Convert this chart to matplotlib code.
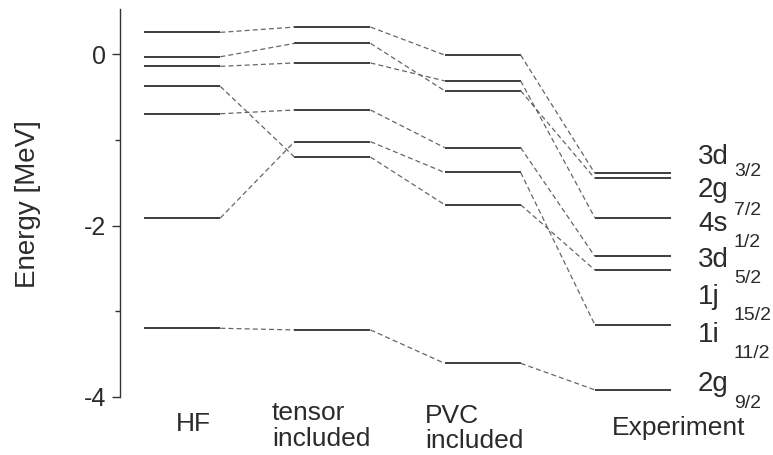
import matplotlib
matplotlib.use("Agg")
import matplotlib.pyplot as plt

# neutron levels above 208Pb [MeV], same state order in every column
names = ["3d", "2g", "4s", "3d", "1j", "1i", "2g"]
subs = ["3/2", "7/2", "1/2", "5/2", "15/2", "11/2", "9/2"]
hf = [0.257, -0.028, -0.14, -0.694, -0.374, -1.912, -3.20]
tensor = [0.319, 0.128, -0.10, -0.65, -1.20, -1.02, -3.22]
pvc = [-0.008, -0.425, -0.31, -1.09, -1.757, -1.38, -3.61]
experiment = [-1.39, -1.45, -1.91, -2.36, -2.52, -3.16, -3.92]

columns = ["HF", "tensor\nincluded", "PVC\nincluded", "Experiment"]

# label placement (data units)
name_y = [-1.281, -1.672, -2.069, -2.490, -2.922, -3.366, -3.938]
sub_y = [-1.422, -1.877, -2.250, -2.671, -3.103, -3.547, -4.131]
col_x = [0.074, 0.597, 1.615, 2.861]
col_y = [-4.40, -4.575, -4.605, -4.446]
col_ha = ["center", "left", "left", "left"]

plt.rcParams['font.family'] = ['Liberation Sans', 'DejaVu Sans']
plt.rcParams['axes.unicode_minus'] = False
ink = '#2b2b2b'

fig = plt.figure(figsize=(7.73, 4.55), dpi=100)
ax = fig.add_axes([0.1552, 0.1281, 0.8448, 0.8521])

levels = [hf, tensor, pvc, experiment]
half = 0.253
for i, col in enumerate(levels):
    for e in col:
        ax.plot([i - half, i + half], [e, e], color='#2e2e2e', lw=1.3,
                solid_capstyle='butt')
for i in range(len(levels) - 1):
    for a, b in zip(levels[i], levels[i + 1]):
        ax.plot([i + half, i + 1 - half], [a, b], color='#666666', lw=0.9,
                ls=(0, (4, 2.5)))

ax.set_xlim(-0.415, 3.933)
ax.set_ylim(-4, 0.53)
ax.set_yticks([0, -2, -4])
ax.set_yticks([-1, -3], minor=True)
ax.set_xticks([])
ax.tick_params(axis='y', which='major', length=6, width=1, pad=4,
               labelsize=18, color='#333333', labelcolor=ink)
ax.tick_params(axis='y', which='minor', length=3.6, width=1, color='#333333')
for s in ['top', 'right', 'bottom']:
    ax.spines[s].set_visible(False)
ax.spines['left'].set_color('#333333')
ax.spines['left'].set_linewidth(1.0)

fig.text(28 / 773, 0.5505, 'Energy [MeV]', rotation=90, ha='center',
         va='center', fontsize=20, color=ink)

for n, s, yn, ys in zip(names, subs, name_y, sub_y):
    ax.text(3.433, yn, n, fontsize=20, color=ink, va='baseline', ha='left')
    ax.text(3.673, ys, s, fontsize=14, color=ink, va='baseline', ha='left')

for label, x, y, ha in zip(columns, col_x, col_y, col_ha):
    ax.text(x, y, label, fontsize=19, color=ink, ha=ha, va='baseline',
            linespacing=1.1, clip_on=False)

fig.savefig('out.png', dpi=100)
